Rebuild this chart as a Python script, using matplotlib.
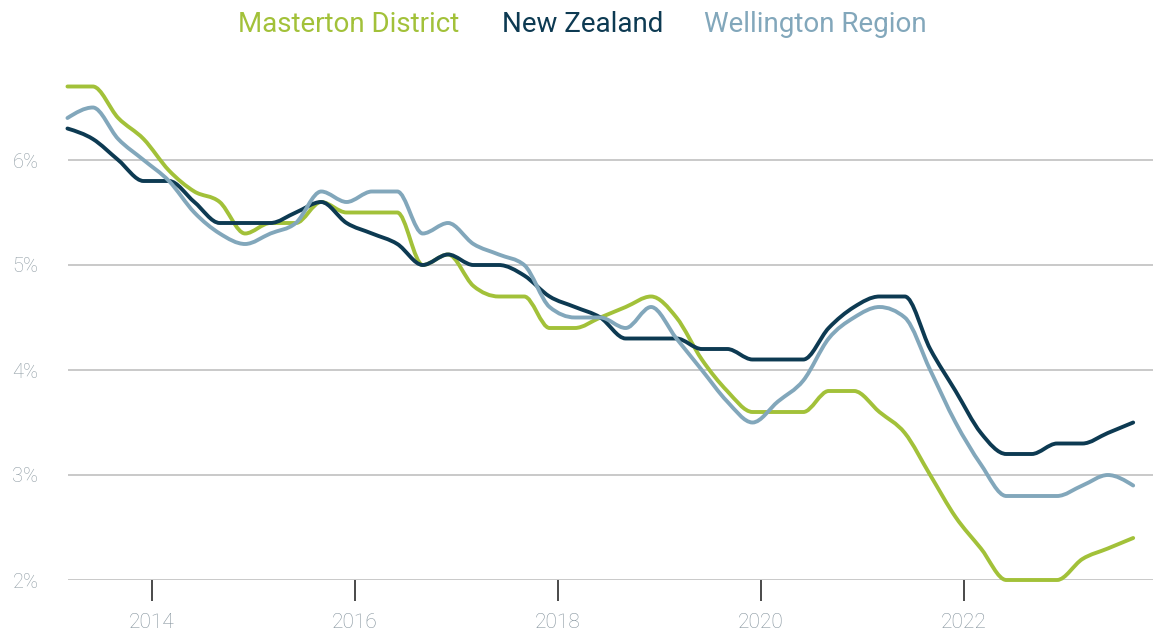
import numpy as np
import matplotlib
matplotlib.use("Agg")
import matplotlib.pyplot as plt
from matplotlib.path import Path
from matplotlib.patches import PathPatch

plt.rcParams['font.family'] = ['Roboto', 'DejaVu Sans']

# quarterly series, March 2013 to September 2023 (percent)
years = [y for y in range(2013, 2024) for _ in range(4)]
months = [3, 6, 9, 12] * 11
years, months = years[:43], months[:43]

masterton = [6.7, 6.7, 6.4, 6.2, 5.9, 5.7, 5.6, 5.3, 5.4, 5.4,
             5.6, 5.5, 5.5, 5.5, 5.0, 5.1, 4.8, 4.7, 4.7, 4.4,
             4.4, 4.5, 4.6, 4.7, 4.5, 4.1, 3.8, 3.6, 3.6, 3.6,
             3.8, 3.8, 3.6, 3.4, 3.0, 2.6, 2.3, 2.0, 2.0, 2.0,
             2.2, 2.3, 2.4]
new_zealand = [6.3, 6.2, 6.0, 5.8, 5.8, 5.6, 5.4, 5.4, 5.4, 5.5,
               5.6, 5.4, 5.3, 5.2, 5.0, 5.1, 5.0, 5.0, 4.9, 4.7,
               4.6, 4.5, 4.3, 4.3, 4.3, 4.2, 4.2, 4.1, 4.1, 4.1,
               4.4, 4.6, 4.7, 4.7, 4.2, 3.8, 3.4, 3.2, 3.2, 3.3,
               3.3, 3.4, 3.5]
wellington = [6.4, 6.5, 6.2, 6.0, 5.8, 5.5, 5.3, 5.2, 5.3, 5.4,
              5.7, 5.6, 5.7, 5.7, 5.3, 5.4, 5.2, 5.1, 5.0, 4.6,
              4.5, 4.5, 4.4, 4.6, 4.3, 4.0, 3.7, 3.5, 3.7, 3.9,
              4.3, 4.5, 4.6, 4.5, 4.0, 3.5, 3.1, 2.8, 2.8, 2.8,
              2.9, 3.0, 2.9]

series_names = ["Masterton District", "New Zealand", "Wellington Region"]
colors = ["#a2c139", "#0d3a52", "#82a7bb"]

x_ticks = [2014, 2016, 2018, 2020, 2022]
y_ticks = [2, 3, 4, 5, 6]


def monotone_path(x, y):
    # cubic bezier path with monotone (Steffen) tangents
    x = np.asarray(x, float)
    y = np.asarray(y, float)
    h = np.diff(x)
    s = np.diff(y) / h
    t = np.zeros_like(y)
    for i in range(1, len(y) - 1):
        p = (s[i - 1] * h[i] + s[i] * h[i - 1]) / (h[i - 1] + h[i])
        t[i] = (np.sign(s[i - 1]) + np.sign(s[i])) * min(
            abs(s[i - 1]), abs(s[i]), 0.5 * abs(p))
    t[0] = (3 * s[0] - t[1]) / 2
    t[-1] = (3 * s[-1] - t[-2]) / 2
    verts = [(x[0], y[0])]
    codes = [Path.MOVETO]
    for i in range(len(x) - 1):
        d = h[i] / 3
        verts += [(x[i] + d, y[i] + d * t[i]),
                  (x[i + 1] - d, y[i + 1] - d * t[i + 1]),
                  (x[i + 1], y[i + 1])]
        codes += [Path.CURVE4] * 3
    return Path(verts, codes)


xs = [yr + (m - 1) / 12 for yr, m in zip(years, months)]

fig = plt.figure(figsize=(11.53, 6.37), dpi=100)
ax = fig.add_axes([68 / 1153, 57 / 637, 1 - 68 / 1153, 520 / 637])

for vals, c in zip([masterton, new_zealand, wellington], colors):
    patch = PathPatch(monotone_path(xs, vals), facecolor='none',
                      edgecolor=c, lw=2.8, capstyle='round',
                      joinstyle='round', clip_on=False, zorder=3)
    ax.add_patch(patch)

ax.set_xlim(2013.172, 2023.862)
ax.set_ylim(2, 2 + 520 / 105)

for v in y_ticks:
    ax.axhline(v, color="#c9c9c9", lw=1.4, zorder=1)

for s in ax.spines.values():
    s.set_visible(False)

ax.set_yticks(y_ticks)
ax.set_yticklabels([f"{v}%" for v in y_ticks])
ax.tick_params(axis='y', length=0, pad=40, labelsize=14.5,
               labelcolor="#8f9ca4")
for lab in ax.get_yticklabels():
    lab.set_horizontalalignment('left')
    lab.set_fontweight('light')

ax.set_xticks(x_ticks)
ax.set_xticklabels([str(v) for v in x_ticks])
ax.tick_params(axis='x', length=15, width=1.3, color="#3a3a3a",
               pad=9, labelsize=15, labelcolor="#83929c")
for lab in ax.get_xticklabels():
    lab.set_fontweight('light')

legend_x = [349, 583, 815]
for name, c, lx in zip(series_names, colors, legend_x):
    fig.text(lx / 1153, 1 - 25 / 637, name, color=c, fontsize=20,
             ha='center', va='center')

fig.savefig("out.png", dpi=100, facecolor='white')
